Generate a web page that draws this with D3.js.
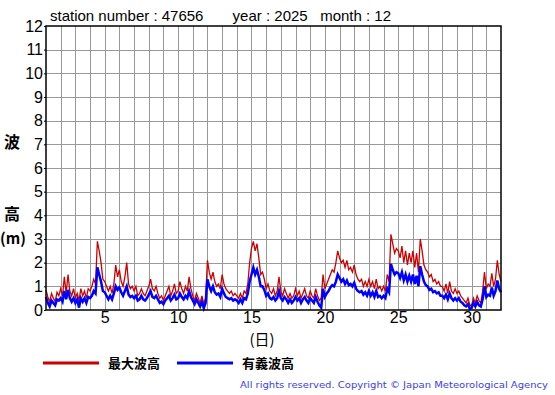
<!DOCTYPE html>
<html><head><meta charset="utf-8">
<script src="https://cdn.jsdelivr.net/npm/d3@7"></script>
<style>body{margin:0;background:#fff}svg{display:block}</style>
</head><body>
<script>
const title = "station number : 47656       year : 2025   month : 12";
const yTicks = [0,1,2,3,4,5,6,7,8,9,10,11,12];
const xTicks = [5,10,15,20,25,30];
const seriesNames = ["最大波高","有義波高"];
const seriesColors = ["#cc0000","#0000ff"];
// 3-hourly values, day 1 00h .. day 31 21h, then day 32 00h
const maxWave = [
0.85,0.55,0.35,0.7,0.5,0.35,0.75,0.6,
0.9,0.6,1.4,0.7,1.5,0.8,0.6,0.9,
0.5,0.7,0.4,0.9,0.6,0.8,0.5,0.9,
0.8,1.0,1.3,1.1,2.9,2.5,2.0,1.3,
1.2,1.0,0.8,1.0,0.7,1.1,1.9,1.4,
1.7,1.2,1.0,1.4,2.0,1.1,0.9,1.0,
0.8,1.0,0.6,0.7,0.9,0.7,0.6,0.8,
1.0,1.3,0.9,0.8,1.0,0.7,0.5,0.6,
0.4,0.6,0.8,1.0,0.6,0.8,1.1,0.7,
0.8,1.2,0.9,0.7,1.0,0.8,1.4,0.9,
0.6,0.4,0.7,0.5,0.3,0.6,0.25,0.5,
2.1,1.6,1.3,1.6,1.2,1.0,1.1,0.9,
1.5,1.1,0.9,0.8,0.7,0.8,0.6,0.7,
0.6,0.5,0.7,0.5,0.8,0.7,1.1,2.0,
2.6,2.9,2.5,2.8,2.2,1.5,1.6,1.3,
0.9,1.1,0.8,0.7,0.9,0.6,0.8,1.4,
0.8,0.6,0.9,0.7,0.5,0.7,0.5,0.6,
0.9,0.6,0.8,0.5,0.7,0.9,0.6,0.5,
0.8,0.6,0.5,0.9,0.6,0.4,0.5,1.5,
0.9,1.1,1.3,1.5,1.7,1.6,2.0,2.5,
2.2,2.0,2.1,1.8,2.1,1.7,1.8,1.6,
1.9,1.5,1.3,1.2,1.3,1.0,1.2,1.0,
1.3,1.0,1.2,0.9,1.3,0.9,1.0,0.8,
1.0,0.8,1.5,1.2,3.2,2.8,2.4,2.6,
2.5,2.2,2.7,2.0,2.5,1.9,2.4,2.0,
2.5,1.8,2.4,1.6,3.0,2.5,1.9,1.7,
1.6,1.4,1.5,1.2,1.3,1.1,1.2,1.0,
1.0,0.8,1.1,0.7,1.2,0.8,0.7,0.9,
0.7,0.8,0.6,0.5,0.4,0.3,0.5,0.2,
0.2,0.5,0.3,0.6,0.4,0.3,0.8,1.6,
0.9,1.1,1.0,1.55,1.0,1.3,2.1,1.5,
1.2];
const sigWave = [
0.55,0.3,0.15,0.4,0.3,0.2,0.45,0.4,
0.5,0.35,0.8,0.45,0.85,0.5,0.35,0.5,
0.3,0.45,0.1,0.5,0.35,0.5,0.3,0.55,
0.5,0.6,0.8,0.7,1.8,1.5,1.2,0.8,
0.75,0.6,0.45,0.6,0.45,0.7,1.0,0.85,
0.95,0.75,0.6,0.8,1.0,0.65,0.55,0.6,
0.5,0.6,0.4,0.45,0.6,0.45,0.4,0.5,
0.65,0.8,0.55,0.5,0.6,0.45,0.3,0.35,
0.25,0.4,0.5,0.6,0.4,0.5,0.65,0.45,
0.5,0.7,0.55,0.45,0.6,0.5,0.8,0.55,
0.4,0.25,0.45,0.3,0.15,0.35,0.08,0.3,
1.3,1.0,0.8,1.0,0.75,0.65,0.7,0.55,
0.9,0.7,0.55,0.5,0.45,0.5,0.4,0.45,
0.4,0.3,0.45,0.3,0.5,0.45,0.7,1.2,
1.5,1.8,1.5,1.7,1.4,1.0,1.0,0.85,
0.6,0.7,0.5,0.45,0.55,0.4,0.5,0.8,
0.5,0.4,0.55,0.45,0.3,0.45,0.3,0.4,
0.55,0.4,0.5,0.3,0.45,0.55,0.4,0.3,
0.5,0.4,0.3,0.55,0.35,0.2,0.1,0.9,
0.55,0.7,0.8,0.95,1.05,1.0,1.2,1.5,
1.35,1.2,1.3,1.1,1.25,1.05,1.1,1.0,
1.15,0.9,0.8,0.75,0.8,0.65,0.75,0.6,
0.8,0.6,0.75,0.55,0.8,0.55,0.6,0.5,
0.6,0.5,0.9,0.75,1.95,1.7,1.5,1.6,
1.55,1.35,1.6,1.25,1.5,1.2,1.45,1.2,
1.5,1.1,1.45,1.0,1.85,1.5,1.2,1.05,
1.0,0.85,0.9,0.75,0.8,0.7,0.75,0.6,
0.6,0.5,0.65,0.45,0.7,0.5,0.4,0.5,
0.4,0.5,0.35,0.3,0.2,0.15,0.25,0.05,
0.1,0.3,0.15,0.35,0.2,0.15,0.45,1.0,
0.55,0.65,0.6,0.95,0.6,0.8,1.25,0.9,
0.75];

const W = 555, H = 395;
const L = 46, R = 501, T = 26, B = 310;
const svg = d3.select("body").append("svg").attr("width", W).attr("height", H);
const x = d3.scaleLinear().domain([1, 32]).range([L, R]);
const y = d3.scaleLinear().domain([0, 12]).range([B, T]);
const font = "'Liberation Sans', Arial, sans-serif";

// grid
const g = svg.append("g");
g.selectAll(".vg").data(d3.range(2, 32)).join("line")
  .attr("x1", d => Math.round(x(d)) + 0.5).attr("x2", d => Math.round(x(d)) + 0.5)
  .attr("y1", T).attr("y2", B).attr("stroke", "#999").attr("stroke-width", 1);
g.selectAll(".hg").data(yTicks.slice(1, -1)).join("line")
  .attr("x1", L).attr("x2", R)
  .attr("y1", d => Math.round(y(d)) + 0.5).attr("y2", d => Math.round(y(d)) + 0.5)
  .attr("stroke", "#999").attr("stroke-width", 1);

// lines
const t = (i) => 1 + i / 8;
const line = d3.line().x((d, i) => x(t(i))).y(d => y(d));
svg.append("path").datum(maxWave).attr("d", line)
  .attr("fill", "none").attr("stroke", seriesColors[0]).attr("stroke-width", 1.3);
svg.append("path").datum(sigWave).attr("d", line)
  .attr("fill", "none").attr("stroke", seriesColors[1]).attr("stroke-width", 2.5);

// frame
svg.append("rect").attr("x", L).attr("y", T).attr("width", R - L).attr("height", B - T)
  .attr("fill", "none").attr("stroke", "#000").attr("stroke-width", 1.5);

// axes
const yAxis = d3.axisLeft(y).tickValues(yTicks).tickSize(2).tickPadding(1);
const ya = svg.append("g").attr("transform", `translate(${L},0)`).call(yAxis);
ya.select(".domain").remove();
ya.selectAll("text").attr("font-family", font).attr("font-size", 16).attr("fill", "#000");
const xAxis = d3.axisBottom(x).tickValues(xTicks).tickSize(0).tickPadding(2);
const xa = svg.append("g").attr("transform", `translate(0,${B})`).call(xAxis);
xa.select(".domain").remove();
xa.selectAll("text").attr("font-family", font).attr("font-size", 16).attr("fill", "#000");

// title
svg.append("text").attr("x", 50).attr("y", 21).attr("font-family", font).attr("font-size", 15)
  .attr("xml:space", "preserve").style("white-space", "pre").text(title);

// y label
const jf = "'Noto Sans CJK JP', sans-serif";
svg.append("text").attr("x", 12).attr("y", 148).attr("text-anchor", "middle")
  .attr("font-family", jf).attr("font-size", 16).attr("font-weight", "bold").text("波");
svg.append("text").attr("x", 12).attr("y", 220).attr("text-anchor", "middle")
  .attr("font-family", jf).attr("font-size", 16).attr("font-weight", "bold").text("高");
svg.append("text").attr("x", 13).attr("y", 244).attr("text-anchor", "middle")
  .attr("font-family", jf).attr("font-size", 15).attr("font-weight", "bold").text("(m)");
svg.append("text").attr("x", 262).attr("y", 345).attr("text-anchor", "middle")
  .attr("font-family", jf).attr("font-size", 15).text("(日)");

// legend
const legX = [43, 177];
seriesNames.forEach((n, i) => {
  svg.append("line").attr("x1", legX[i]).attr("x2", legX[i] + 56).attr("y1", 363).attr("y2", 363)
    .attr("stroke", seriesColors[i]).attr("stroke-width", 3);
  svg.append("text").attr("x", legX[i] + 65).attr("y", 368).attr("font-family", jf)
    .attr("font-size", 13).attr("font-weight", "bold").text(n);
});

// footer
svg.append("text").attr("x", 240).attr("y", 388).attr("font-family", "'DejaVu Sans', sans-serif")
  .attr("font-size", 9.5).attr("fill", "#3d3dea").attr("textLength", 308)
  .attr("lengthAdjust", "spacingAndGlyphs")
  .text("All rights reserved. Copyright © Japan Meteorological Agency");
</script>
</body></html>
